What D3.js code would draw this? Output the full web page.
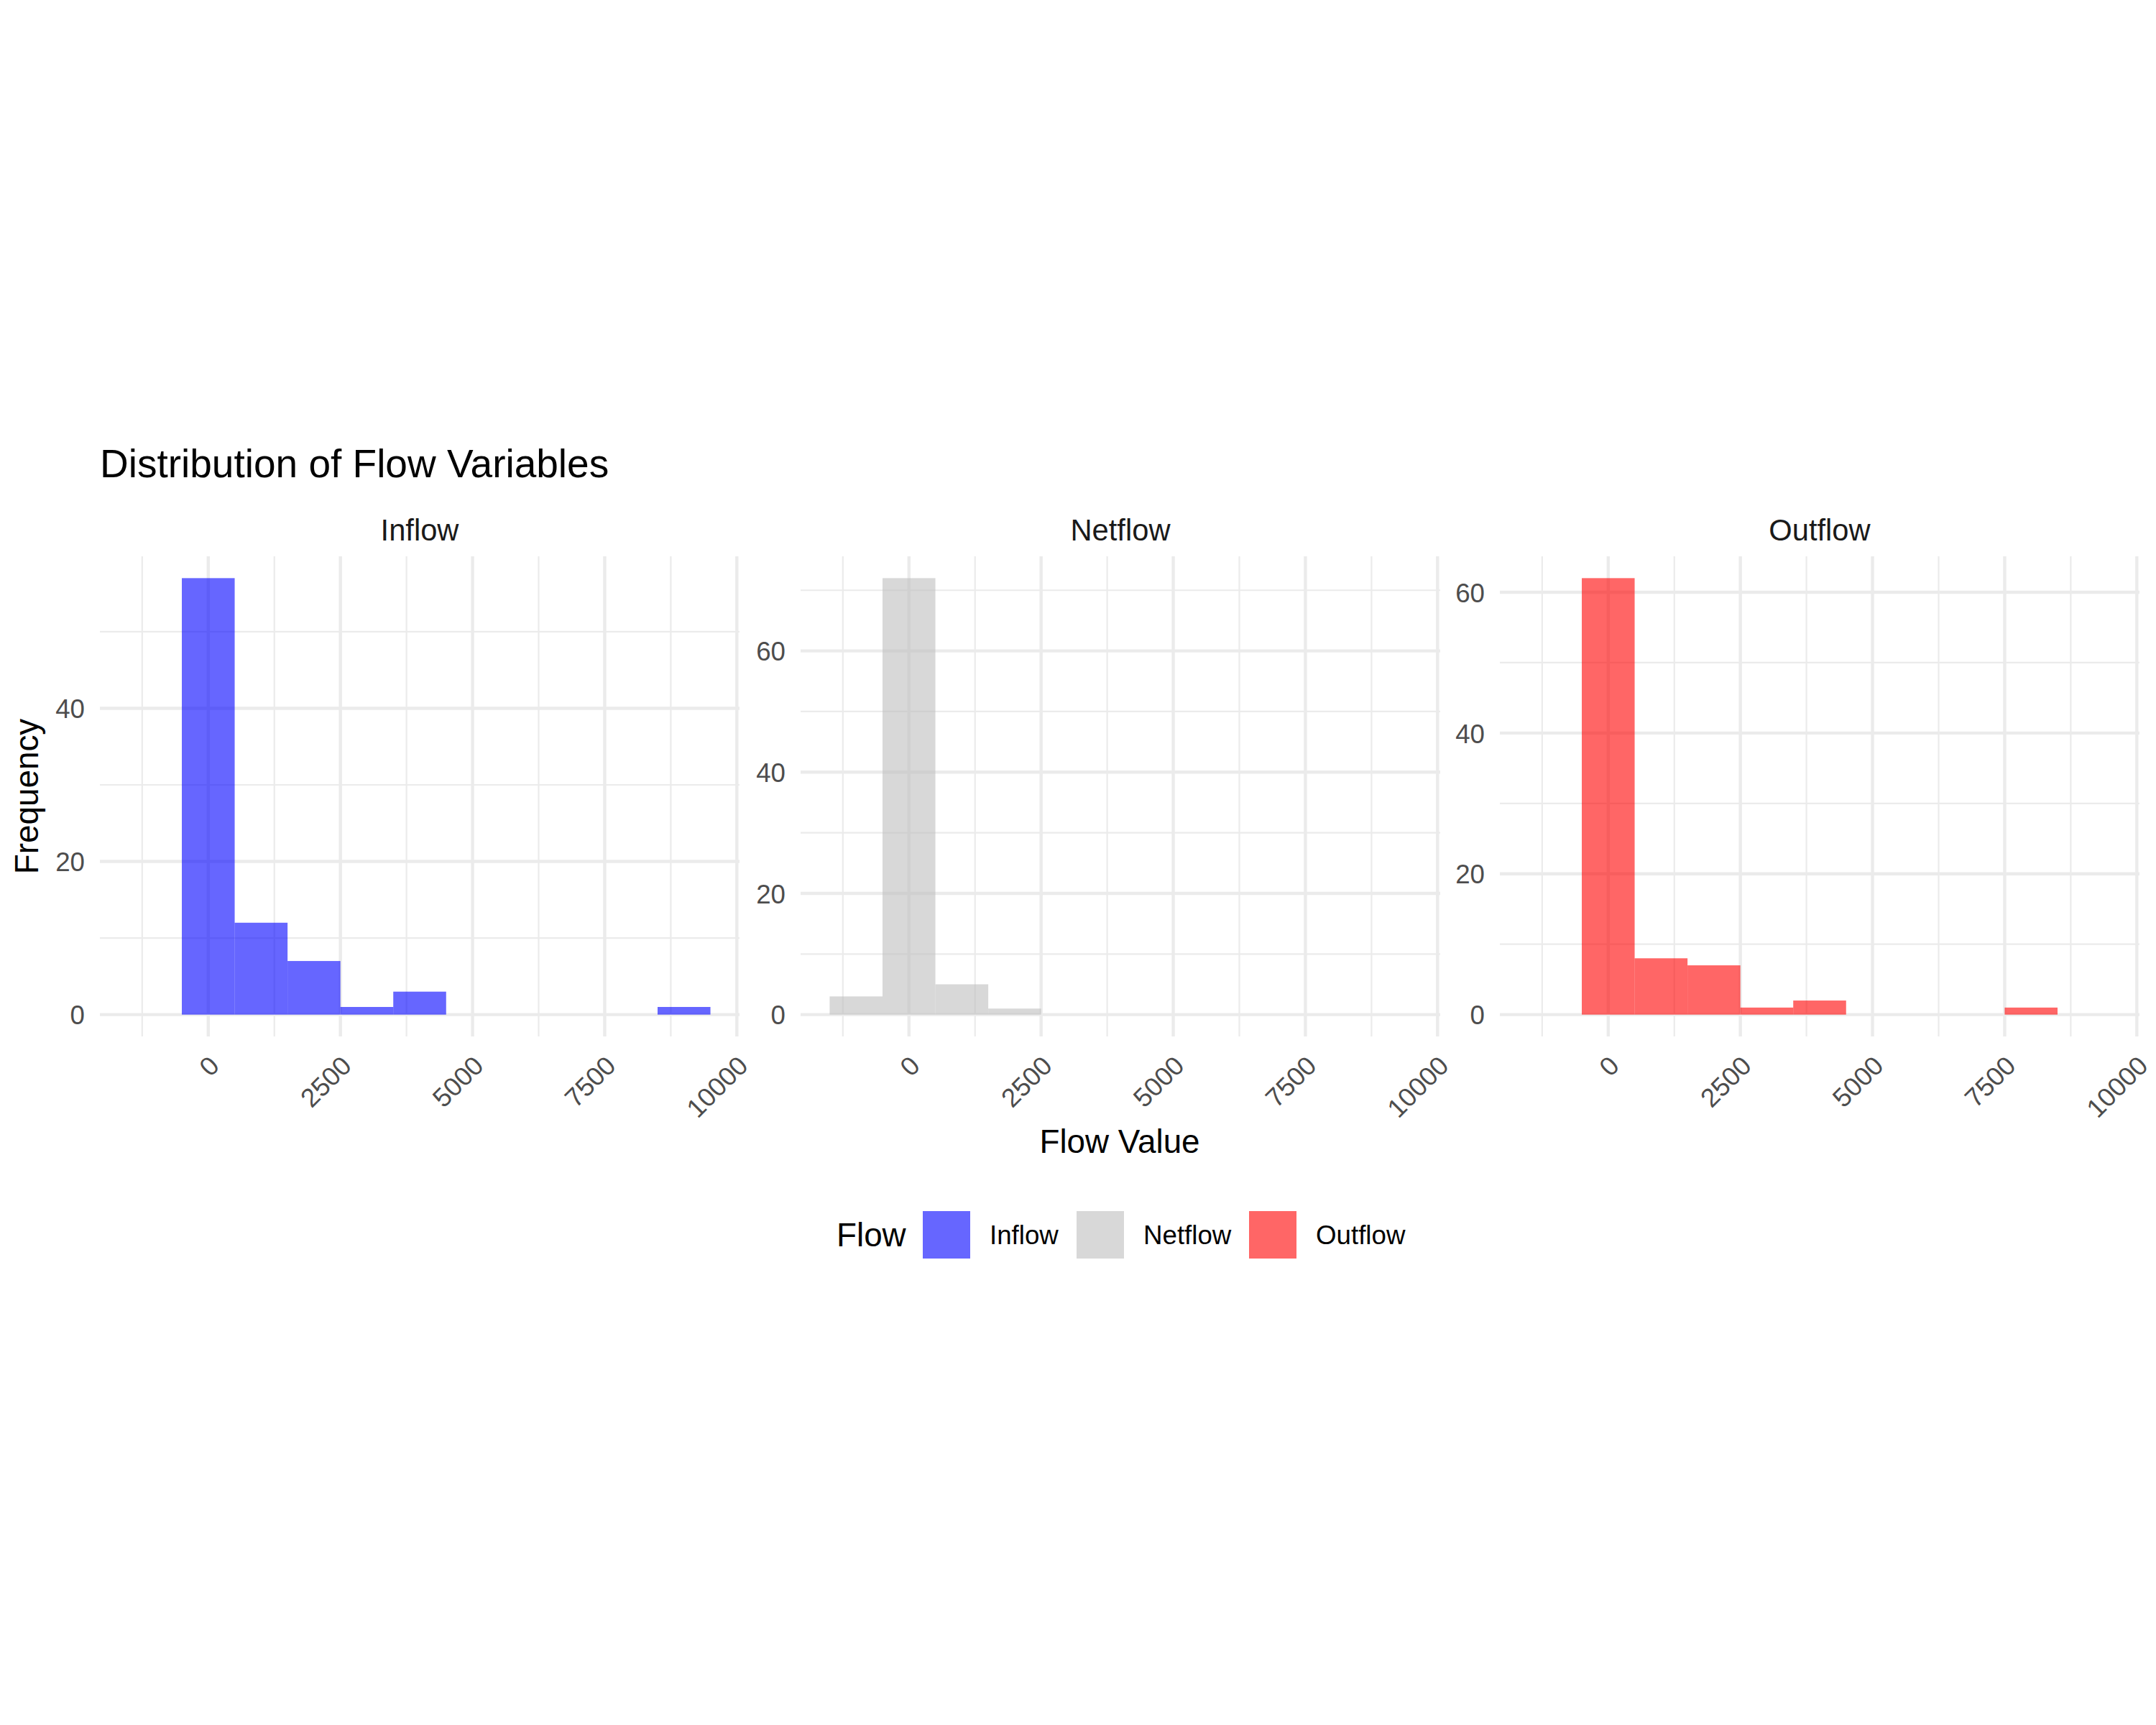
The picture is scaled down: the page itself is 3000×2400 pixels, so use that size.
<!DOCTYPE html>
<html>
<head>
<meta charset="utf-8">
<script src="https://cdn.jsdelivr.net/npm/d3@7"></script>
<style>
  html, body { margin: 0; padding: 0; background: #ffffff; }
  svg { display: block; font-family: "Liberation Sans", Arial, Helvetica, sans-serif; }
</style>
</head>
<body>
<svg id="chart" width="3000" height="2400"></svg>
<script>
// ---- Data ----
const facets = ["Inflow", "Netflow", "Outflow"];
const binWidth = 1000;
const inflowBinStart = [-500, 500, 1500, 2500, 3500, 8500];
const inflowCount = [57, 12, 7, 1, 3, 1];
const netflowBinStart = [-1500, -500, 500, 1500];
const netflowCount = [3, 72, 5, 1];
const outflowBinStart = [-500, 500, 1500, 2500, 3500, 7500];
const outflowCount = [62, 8, 7, 1, 2, 1];

const xTicks = [0, 2500, 5000, 7500, 10000];
const xMinorTicks = [-1250, 1250, 3750, 6250, 8750];
const inflowYTicks = [0, 20, 40];
const inflowYMinor = [10, 30, 50];
const netflowYTicks = [0, 20, 40, 60];
const netflowYMinor = [10, 30, 50, 70];
const outflowYTicks = [0, 20, 40, 60];
const outflowYMinor = [10, 30, 50];

const colors = { Inflow: "#0000FF", Netflow: "#BEBEBE", Outflow: "#FF0000" };
const alpha = 0.6;

const titleText = "Distribution of Flow Variables";
const xTitle = "Flow Value";
const yTitle = "Frequency";
const legendTitle = "Flow";

// ---- Layout ----
const svg = d3.select("#chart");
const panelTop = 774, panelBottom = 1442, panelW = 890;
const panelLefts = [139, 1114, 2087];
const xDomain = [-2050, 10050];
const gridColor = "#EBEBEB";

const series = {
  Inflow: { starts: inflowBinStart, counts: inflowCount, yTicks: inflowYTicks, yMinor: inflowYMinor },
  Netflow: { starts: netflowBinStart, counts: netflowCount, yTicks: netflowYTicks, yMinor: netflowYMinor },
  Outflow: { starts: outflowBinStart, counts: outflowCount, yTicks: outflowYTicks, yMinor: outflowYMinor }
};

facets.forEach((name, i) => {
  const s = series[name];
  const left = panelLefts[i];
  const x = d3.scaleLinear().domain(xDomain).range([left, left + panelW]);
  const maxC = d3.max(s.counts);
  const pad = maxC * 0.05;
  const y = d3.scaleLinear().domain([-pad, maxC + pad]).range([panelBottom, panelTop]);

  const g = svg.append("g");
  // minor grid
  g.selectAll(".vminor").data(xMinorTicks).join("line")
    .attr("x1", d => x(d)).attr("x2", d => x(d))
    .attr("y1", panelTop).attr("y2", panelBottom)
    .attr("stroke", gridColor).attr("stroke-width", 2.2);
  g.selectAll(".hminor").data(s.yMinor).join("line")
    .attr("x1", left).attr("x2", left + panelW)
    .attr("y1", d => y(d)).attr("y2", d => y(d))
    .attr("stroke", gridColor).attr("stroke-width", 2.2);
  // major grid
  g.selectAll(".vmajor").data(xTicks).join("line")
    .attr("x1", d => x(d)).attr("x2", d => x(d))
    .attr("y1", panelTop).attr("y2", panelBottom)
    .attr("stroke", gridColor).attr("stroke-width", 4.4);
  g.selectAll(".hmajor").data(s.yTicks).join("line")
    .attr("x1", left).attr("x2", left + panelW)
    .attr("y1", d => y(d)).attr("y2", d => y(d))
    .attr("stroke", gridColor).attr("stroke-width", 4.4);

  // bars
  const bins = s.starts.map((b, k) => ({ x0: b, x1: b + binWidth, n: s.counts[k] }));
  g.selectAll(".bar").data(bins).join("rect")
    .attr("x", d => x(d.x0))
    .attr("width", d => x(d.x1) - x(d.x0))
    .attr("y", d => y(d.n))
    .attr("height", d => y(0) - y(d.n))
    .attr("fill", colors[name]).attr("fill-opacity", alpha);

  // strip label
  svg.append("text")
    .attr("x", left + panelW / 2).attr("y", 752)
    .attr("text-anchor", "middle")
    .attr("font-size", 41.7).attr("fill", "#1A1A1A")
    .text(name);

  // x axis
  const xa = svg.append("g").attr("transform", `translate(0,${panelBottom})`)
    .call(d3.axisBottom(x).tickValues(xTicks).tickSize(0).tickFormat(d3.format("d")));
  xa.select(".domain").remove();
  xa.selectAll("text")
    .attr("x", 0).attr("y", 0).attr("dy", null)
    .attr("text-anchor", "end")
    .attr("transform", "translate(17,43) rotate(-45)")
    .attr("font-size", 36.7).attr("fill", "#4D4D4D")
    .attr("font-family", "Liberation Sans, Arial, Helvetica, sans-serif");

  // y axis
  const ya = svg.append("g").attr("transform", `translate(${left},0)`)
    .call(d3.axisLeft(y).tickValues(s.yTicks).tickSize(0).tickPadding(21));
  ya.select(".domain").remove();
  ya.selectAll("text")
    .attr("dy", "0.36em")
    .attr("font-size", 36.7).attr("fill", "#4D4D4D")
    .attr("font-family", "Liberation Sans, Arial, Helvetica, sans-serif");
});

// title
svg.append("text")
  .attr("x", 139).attr("y", 664)
  .attr("font-size", 55).attr("fill", "#000000")
  .text(titleText);

// axis titles
svg.append("text")
  .attr("x", (panelLefts[0] + panelLefts[2] + panelW) / 2).attr("y", 1604)
  .attr("text-anchor", "middle")
  .attr("font-size", 45.8).attr("fill", "#000000")
  .text(xTitle);

svg.append("text")
  .attr("transform", `translate(53,${(panelTop + panelBottom) / 2}) rotate(-90)`)
  .attr("text-anchor", "middle")
  .attr("font-size", 45.8).attr("fill", "#000000")
  .text(yTitle);

// legend
const legendKeyX = [1284, 1498, 1738];
const legendKeyY = 1685, keySize = 66;
svg.append("text")
  .attr("x", 1164).attr("y", 1734)
  .attr("font-size", 45.8).attr("fill", "#000000")
  .text(legendTitle);
const lg = svg.append("g");
facets.forEach((name, i) => {
  lg.append("rect")
    .attr("x", legendKeyX[i]).attr("y", legendKeyY)
    .attr("width", keySize).attr("height", keySize)
    .attr("fill", colors[name]).attr("fill-opacity", alpha);
  lg.append("text")
    .attr("x", legendKeyX[i] + keySize + 27).attr("y", legendKeyY + keySize / 2)
    .attr("dy", "0.36em")
    .attr("font-size", 36.7).attr("fill", "#000000")
    .text(name);
});
</script>
</body>
</html>
